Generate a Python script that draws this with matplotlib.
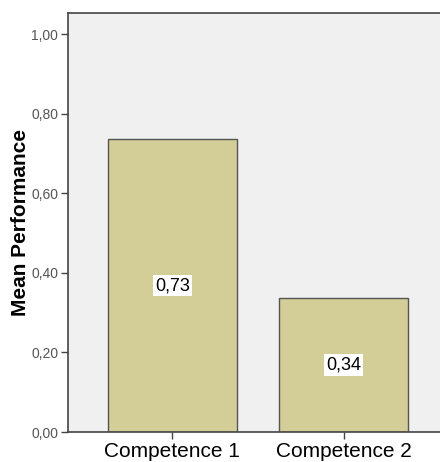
import numpy as np
import matplotlib
matplotlib.use("Agg")
import matplotlib.pyplot as plt
from matplotlib.ticker import FuncFormatter

# data
categories = ['Competence 1', 'Competence 2']
means = [0.735, 0.337]
labels = ['0,73', '0,34']
yticks = [0.0, 0.2, 0.4, 0.6, 0.8, 1.0]

plt.rcParams['font.family'] = ['Liberation Sans', 'DejaVu Sans']

fig = plt.figure(figsize=(4.4, 4.62), dpi=100)
ax = fig.add_axes([68/440, 1 - 432/462, (448 - 68)/440, (432 - 13)/462])
ax.set_facecolor('#F0F0F0')

x = np.arange(len(categories))
ax.bar(x, means, width=0.754, color='#D3CE98', edgecolor='#555555', linewidth=1.0, zorder=2)

# value labels in the middle of each bar
for xi, m, lab in zip(x, means, labels):
    ax.text(xi, m / 2, lab, ha='center', va='center', fontsize=13, color='black',
            bbox=dict(facecolor='white', edgecolor='none', pad=1.5), zorder=3)

ax.set_xlim(-0.61, 1.61)
ax.set_ylim(0, 1.0528)
ax.set_xticks(x)
ax.set_xticklabels(categories, fontsize=15)
ax.set_yticks(yticks)
ax.yaxis.set_major_formatter(FuncFormatter(lambda v, p: f'{v:.2f}'.replace('.', ',')))
ax.tick_params(axis='y', labelsize=10, labelcolor='#555555', length=5, width=1, color='#444444', pad=2)
ax.tick_params(axis='x', length=5, width=1, color='#444444', pad=2)
ax.set_ylabel('Mean Performance', fontsize=15, fontweight='bold', va='center')
ax.yaxis.set_label_coords(-0.124, 0.5)

for s in ax.spines.values():
    s.set_color('#444444')
    s.set_linewidth(1.2)
ax.spines['right'].set_visible(False)

fig.savefig('out.png', dpi=100)
